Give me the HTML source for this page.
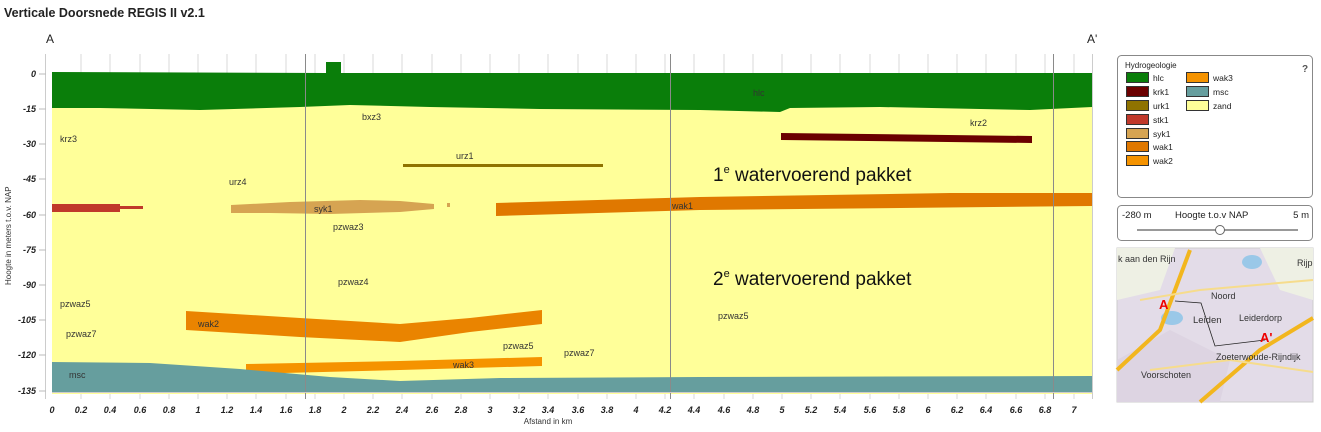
<!DOCTYPE html>
<html><head><meta charset="utf-8"><style>
body{margin:0;background:#fff;width:1321px;height:427px;overflow:hidden;font-family:"Liberation Sans",sans-serif}
</style></head><body>
<svg width="1321" height="427" xmlns="http://www.w3.org/2000/svg" font-family="Liberation Sans, sans-serif">
<text x="4" y="17" font-size="12.5" font-weight="bold" fill="#222">Verticale Doorsnede REGIS II v2.1</text>
<text x="46" y="43" font-size="12" fill="#222">A</text>
<text x="1087" y="43" font-size="12" fill="#222">A'</text>
<rect x="52" y="54" width="1040" height="340" fill="#fff"/>
<rect x="45" y="54" width="1" height="345" fill="#ccc"/>
<g stroke="#d8d8d8" stroke-width="1">
<line x1="81" y1="54" x2="81" y2="399"/><line x1="110" y1="54" x2="110" y2="399"/><line x1="140" y1="54" x2="140" y2="399"/><line x1="169" y1="54" x2="169" y2="399"/><line x1="198" y1="54" x2="198" y2="399"/><line x1="227" y1="54" x2="227" y2="399"/><line x1="256" y1="54" x2="256" y2="399"/><line x1="286" y1="54" x2="286" y2="399"/><line x1="315" y1="54" x2="315" y2="399"/><line x1="344" y1="54" x2="344" y2="399"/><line x1="373" y1="54" x2="373" y2="399"/><line x1="402" y1="54" x2="402" y2="399"/><line x1="432" y1="54" x2="432" y2="399"/><line x1="461" y1="54" x2="461" y2="399"/><line x1="490" y1="54" x2="490" y2="399"/><line x1="519" y1="54" x2="519" y2="399"/><line x1="548" y1="54" x2="548" y2="399"/><line x1="578" y1="54" x2="578" y2="399"/><line x1="607" y1="54" x2="607" y2="399"/><line x1="636" y1="54" x2="636" y2="399"/><line x1="665" y1="54" x2="665" y2="399"/><line x1="694" y1="54" x2="694" y2="399"/><line x1="724" y1="54" x2="724" y2="399"/><line x1="753" y1="54" x2="753" y2="399"/><line x1="782" y1="54" x2="782" y2="399"/><line x1="811" y1="54" x2="811" y2="399"/><line x1="840" y1="54" x2="840" y2="399"/><line x1="870" y1="54" x2="870" y2="399"/><line x1="899" y1="54" x2="899" y2="399"/><line x1="928" y1="54" x2="928" y2="399"/><line x1="957" y1="54" x2="957" y2="399"/><line x1="986" y1="54" x2="986" y2="399"/><line x1="1016" y1="54" x2="1016" y2="399"/><line x1="1045" y1="54" x2="1045" y2="399"/><line x1="1074" y1="54" x2="1074" y2="399"/>
</g>
<rect x="52" y="100" width="1040" height="294" fill="#ffff99"/>
<path d="M52,72 L326,73 L326,62 L341,62 L341,73 L1092,73 L1092,107 L1030,110 L880,107 L790,108 L780,112 L700,110 L540,109 L430,107 L350,105 L300,107 L200,110 L100,108 L52,108 Z" fill="#0a7e0a"/>
<path d="M781,133 L1032,136 L1032,143 L781,140 Z" fill="#6b0000"/>
<rect x="403" y="164" width="200" height="3" fill="#8f7300"/>
<path d="M52,204 L120,204 L120,206 L143,206 L143,209 L120,209 L120,212 L52,212 Z" fill="#c0392b"/>
<path d="M231,205 L290,202 L360,200 L400,201 L434,204 L434,209 L400,212 L330,214 L270,213 L231,213 Z" fill="#d6a452"/>
<rect x="447" y="203" width="3" height="4" fill="#d6a452"/>
<path d="M496,203 L700,197 L950,193 L1092,193 L1092,206 L900,208 L700,210 L496,216 Z" fill="#e07800"/>
<path d="M186,311 L300,318 L400,324 L470,318 L542,310 L542,324 L470,332 L400,342 L300,337 L186,330 Z" fill="#ea8400"/>
<path d="M246,364 L400,361 L542,357 L542,366 L400,370 L246,374 Z" fill="#f59300"/>
<path d="M52,362 L150,363 L240,369 L330,377 L400,381 L500,378 L700,377 L1092,376 L1092,392 L52,392 Z" fill="#669e9e"/>
<g stroke="#8a8a8a" stroke-width="1"><line x1="305.5" y1="54" x2="305.5" y2="399"/><line x1="670.5" y1="54" x2="670.5" y2="399"/><line x1="1053.5" y1="54" x2="1053.5" y2="399"/></g>
<rect x="52" y="392" width="1040" height="1" fill="#ccc"/>
<rect x="1092" y="54" width="1" height="345" fill="#ccc"/>
<g font-size="9" fill="#333">
<text x="60" y="142">krz3</text><text x="362" y="120">bxz3</text><text x="970" y="126">krz2</text><text x="753" y="96">hlc</text>
<text x="456" y="159">urz1</text><text x="229" y="185">urz4</text><text x="314" y="212">syk1</text><text x="672" y="209">wak1</text>
<text x="333" y="230">pzwaz3</text><text x="338" y="285">pzwaz4</text><text x="60" y="307">pzwaz5</text><text x="66" y="337">pzwaz7</text>
<text x="198" y="327">wak2</text><text x="503" y="349">pzwaz5</text><text x="564" y="356">pzwaz7</text><text x="453" y="368">wak3</text>
<text x="69" y="378">msc</text><text x="718" y="319">pzwaz5</text>
</g>
<text x="713" y="181" font-size="19" fill="#111">1<tspan font-size="11" dy="-8">e</tspan><tspan dy="8"> watervoerend pakket</tspan></text>
<text x="713" y="285" font-size="19" fill="#111">2<tspan font-size="11" dy="-8">e</tspan><tspan dy="8"> watervoerend pakket</tspan></text>
<g font-size="9" font-weight="bold" font-style="italic" fill="#222" text-anchor="end">
<text x="36" y="77">0</text><text x="36" y="112">-15</text><text x="36" y="147">-30</text><text x="36" y="182">-45</text><text x="36" y="218">-60</text><text x="36" y="253">-75</text><text x="36" y="288">-90</text><text x="36" y="323">-105</text><text x="36" y="358">-120</text><text x="36" y="394">-135</text>
</g>
<g stroke="#bbb"><line x1="39" y1="74" x2="46" y2="74"/><line x1="39" y1="109" x2="46" y2="109"/><line x1="39" y1="144" x2="46" y2="144"/><line x1="39" y1="179" x2="46" y2="179"/><line x1="39" y1="215" x2="46" y2="215"/><line x1="39" y1="250" x2="46" y2="250"/><line x1="39" y1="285" x2="46" y2="285"/><line x1="39" y1="320" x2="46" y2="320"/><line x1="39" y1="355" x2="46" y2="355"/><line x1="39" y1="391" x2="46" y2="391"/></g>
<text transform="translate(11,285) rotate(-90)" font-size="8" fill="#333">Hoogte in meters t.o.v. NAP</text>
<g font-size="9" font-weight="bold" font-style="italic" fill="#222" text-anchor="middle">
<text x="52" y="413">0</text><text x="81" y="413">0.2</text><text x="110" y="413">0.4</text><text x="140" y="413">0.6</text><text x="169" y="413">0.8</text><text x="198" y="413">1</text><text x="227" y="413">1.2</text><text x="256" y="413">1.4</text><text x="286" y="413">1.6</text><text x="315" y="413">1.8</text><text x="344" y="413">2</text><text x="373" y="413">2.2</text><text x="402" y="413">2.4</text><text x="432" y="413">2.6</text><text x="461" y="413">2.8</text><text x="490" y="413">3</text><text x="519" y="413">3.2</text><text x="548" y="413">3.4</text><text x="578" y="413">3.6</text><text x="607" y="413">3.8</text><text x="636" y="413">4</text><text x="665" y="413">4.2</text><text x="694" y="413">4.4</text><text x="724" y="413">4.6</text><text x="753" y="413">4.8</text><text x="782" y="413">5</text><text x="811" y="413">5.2</text><text x="840" y="413">5.4</text><text x="870" y="413">5.6</text><text x="899" y="413">5.8</text><text x="928" y="413">6</text><text x="957" y="413">6.2</text><text x="986" y="413">6.4</text><text x="1016" y="413">6.6</text><text x="1045" y="413">6.8</text><text x="1074" y="413">7</text>
</g>
<text x="548" y="424" font-size="8" fill="#333" text-anchor="middle">Afstand in km</text>
<rect x="1117.5" y="55.5" width="195" height="142" rx="4" fill="#fff" stroke="#888"/>
<text x="1125" y="68" font-size="8" fill="#222">Hydrogeologie</text>
<text x="1302" y="72" font-size="10" font-weight="bold" fill="#555">?</text>
<g stroke="#333" stroke-width="1">
<rect x="1126.5" y="72.5" width="22" height="10" fill="#0a7e0a"/>
<rect x="1126.5" y="86.5" width="22" height="10" fill="#6b0000"/>
<rect x="1126.5" y="100.5" width="22" height="10" fill="#8f7300"/>
<rect x="1126.5" y="114.5" width="22" height="10" fill="#c0392b"/>
<rect x="1126.5" y="128.5" width="22" height="10" fill="#d6a452"/>
<rect x="1126.5" y="141.5" width="22" height="10" fill="#e07800"/>
<rect x="1126.5" y="155.5" width="22" height="10" fill="#f59300"/>
<rect x="1186.5" y="72.5" width="22" height="10" fill="#f59300"/>
<rect x="1186.5" y="86.5" width="22" height="10" fill="#669e9e"/>
<rect x="1186.5" y="100.5" width="22" height="10" fill="#ffff99"/>
</g>
<g font-size="8.5" fill="#222">
<text x="1153" y="81">hlc</text><text x="1153" y="95">krk1</text><text x="1153" y="109">urk1</text><text x="1153" y="123">stk1</text><text x="1153" y="137">syk1</text><text x="1153" y="150">wak1</text><text x="1153" y="164">wak2</text>
<text x="1213" y="81">wak3</text><text x="1213" y="95">msc</text><text x="1213" y="109">zand</text>
</g>
<rect x="1117.5" y="205.5" width="195" height="35" rx="4" fill="#fff" stroke="#888"/>
<text x="1122" y="218" font-size="9.5" fill="#222">-280 m</text>
<text x="1175" y="218" font-size="9.5" fill="#222">Hoogte t.o.v NAP</text>
<text x="1309" y="218" font-size="9.5" fill="#222" text-anchor="end">5 m</text>
<line x1="1137" y1="230" x2="1298" y2="230" stroke="#999" stroke-width="2"/>
<circle cx="1220" cy="230" r="4.5" fill="#fff" stroke="#666"/>
<g>
<rect x="1117" y="248" width="196" height="154" fill="#e3dce8" stroke="#ccc"/>
<path d="M1117,248 L1175,248 L1160,290 L1117,300 Z" fill="#eef0e4"/>
<path d="M1117,360 L1170,330 L1230,360 L1220,402 L1117,402 Z" fill="#ddd4e2"/>
<path d="M1260,248 L1313,248 L1313,300 L1280,290 Z" fill="#eef0e4"/>
<ellipse cx="1172" cy="318" rx="11" ry="7" fill="#9ac8e8"/>
<ellipse cx="1252" cy="262" rx="10" ry="7" fill="#9ac8e8"/>
<path d="M1117,370 L1160,330 L1190,250" stroke="#f2b61e" stroke-width="4" fill="none"/>
<path d="M1200,402 L1260,350 L1313,318" stroke="#f2b61e" stroke-width="4" fill="none"/>
<path d="M1140,300 L1200,290 L1313,280" stroke="#f6dc8c" stroke-width="2" fill="none"/>
<path d="M1150,370 L1230,360 L1313,372" stroke="#f6dc8c" stroke-width="2" fill="none"/>
<path d="M1175,301 L1201,303 L1215,346 L1265,340" stroke="#222" stroke-width="0.8" fill="none"/>
<text x="1118" y="262" font-size="9" fill="#333">k aan den Rijn</text>
<text x="1297" y="266" font-size="9" fill="#333">Rijp</text>
<text x="1211" y="299" font-size="9" fill="#333">Noord</text>
<text x="1193" y="323" font-size="9.5" fill="#333">Leiden</text>
<text x="1239" y="321" font-size="9" fill="#333">Leiderdorp</text>
<text x="1216" y="360" font-size="9" fill="#333">Zoeterwoude-Rijndijk</text>
<text x="1141" y="378" font-size="9" fill="#333">Voorschoten</text>
<text x="1159" y="309" font-size="13" font-weight="bold" fill="#e00">A</text>
<text x="1260" y="342" font-size="13" font-weight="bold" fill="#e00">A'</text>
</g>
</svg>
</body></html>
